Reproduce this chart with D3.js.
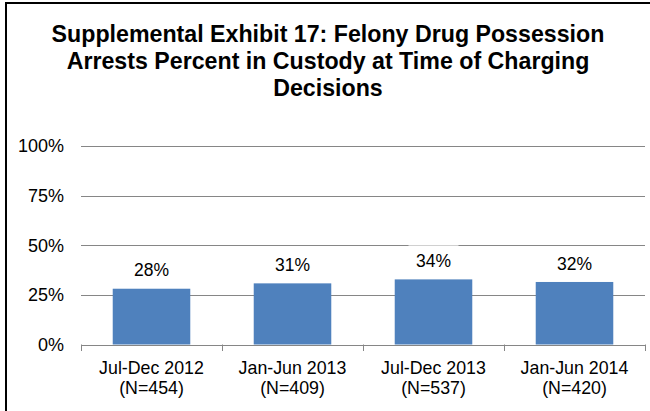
<!DOCTYPE html>
<html>
<head>
<meta charset="utf-8">
<script src="https://cdn.jsdelivr.net/npm/d3@7"></script>
<style>
  html, body { margin: 0; padding: 0; background: #fff; }
  svg { display: block; }
  text { font-family: "Liberation Sans", Arial, sans-serif; fill: #000; }
</style>
</head>
<body>
<svg id="chart" width="650" height="411"></svg>
<script>
const titleLines = [
  "Supplemental Exhibit 17: Felony Drug Possession",
  "Arrests Percent in Custody at Time of Charging",
  "Decisions"
];
const categories = ["Jul-Dec 2012", "Jan-Jun 2013", "Jul-Dec 2013", "Jan-Jun 2014"];
const sampleSizes = ["(N=454)", "(N=409)", "(N=537)", "(N=420)"];
const values = [0.281, 0.308, 0.328, 0.315];
const valueLabels = ["28%", "31%", "34%", "32%"];
const yTicks = [0, 0.25, 0.5, 0.75, 1];

const svg = d3.select("#chart");
const W = 650, H = 411;
const margin = { left: 81, right: 5, top: 146, bottom: 66.5 };

// outer frame (top and left edges visible)
svg.append("rect")
  .attr("x", 6).attr("y", 3)
  .attr("width", 700).attr("height", 500)
  .attr("fill", "none").attr("stroke", "#000").attr("stroke-width", 2);

// title
svg.append("g").selectAll("text").data(titleLines).join("text")
  .attr("x", 328)
  .attr("y", (d, i) => 42 + i * 26.8)
  .attr("text-anchor", "middle")
  .attr("font-size", "23.2px")
  .attr("font-weight", "bold")
  .text(d => d);

const x = d3.scaleBand()
  .domain(categories)
  .range([margin.left, W - margin.right])
  .paddingInner(0.45)
  .paddingOuter(0.225);

const y = d3.scaleLinear()
  .domain([0, 1])
  .range([H - margin.bottom, margin.top]);

// gridlines
svg.append("g").selectAll("line").data(yTicks.filter(d => d > 0)).join("line")
  .attr("x1", margin.left).attr("x2", W - margin.right)
  .attr("y1", d => Math.round(y(d)) + 0.5).attr("y2", d => Math.round(y(d)) + 0.5)
  .attr("stroke", "#868686").attr("stroke-width", 1);

// y tick labels
svg.append("g").selectAll("text").data(yTicks).join("text")
  .attr("x", 64)
  .attr("y", d => y(d))
  .attr("dy", "0.36em")
  .attr("text-anchor", "end")
  .attr("font-size", "18px")
  .text(d => d3.format(".0%")(d));

// bars
svg.append("g").selectAll("rect").data(values).join("rect")
  .attr("x", (d, i) => x(categories[i]))
  .attr("y", d => y(d))
  .attr("width", x.bandwidth())
  .attr("height", d => y(0) - y(d))
  .attr("fill", "#4F81BD");

// x axis line and ticks
const step = x.step();
const boundaries = [margin.left].concat(categories.map(c => x(c) - x.paddingInner() * step / 2 + step));
svg.append("line")
  .attr("x1", margin.left).attr("x2", W - margin.right)
  .attr("y1", Math.round(y(0)) + 0.5).attr("y2", Math.round(y(0)) + 0.5)
  .attr("stroke", "#868686");
svg.append("g").selectAll("line").data(boundaries).join("line")
  .attr("x1", d => Math.round(d) + 0.5).attr("x2", d => Math.round(d) + 0.5)
  .attr("y1", y(0)).attr("y2", y(0) + 6.5)
  .attr("stroke", "#868686");

// data labels with white backgrounds
const lbl = svg.append("g").selectAll("g").data(values).join("g");
lbl.append("rect")
  .attr("x", (d, i) => x(categories[i]) + x.bandwidth() / 2 - 25)
  .attr("y", d => y(d) - 34)
  .attr("width", 50).attr("height", 27)
  .attr("fill", "#fff");
lbl.append("text")
  .attr("x", (d, i) => x(categories[i]) + x.bandwidth() / 2)
  .attr("y", d => y(d) - 12.3)
  .attr("text-anchor", "middle")
  .attr("font-size", "17.5px")
  .text((d, i) => valueLabels[i]);

// category labels
const cat = svg.append("g").selectAll("g").data(categories).join("g");
cat.append("text")
  .attr("x", d => x(d) + x.bandwidth() / 2)
  .attr("y", 374)
  .attr("text-anchor", "middle")
  .attr("font-size", "17.8px")
  .text(d => d);
cat.append("text")
  .attr("x", d => x(d) + x.bandwidth() / 2)
  .attr("y", 394)
  .attr("text-anchor", "middle")
  .attr("font-size", "17.8px")
  .text((d, i) => sampleSizes[i]);
</script>
</body>
</html>
